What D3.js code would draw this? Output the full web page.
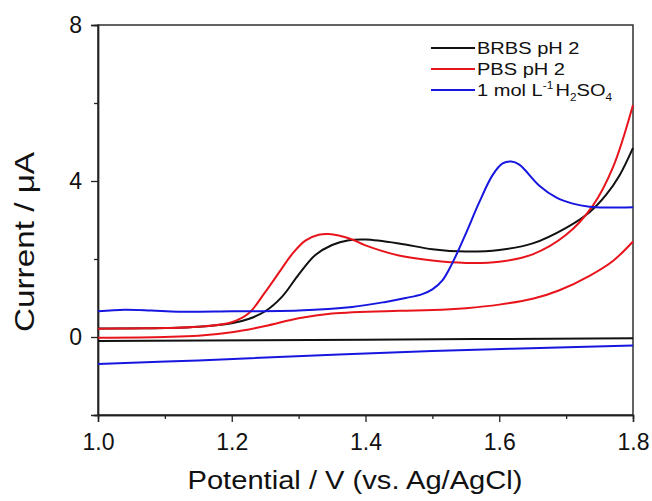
<!DOCTYPE html>
<html>
<head>
<meta charset="utf-8">
<script src="https://cdn.jsdelivr.net/npm/d3@7"></script>
<style>
  body { margin: 0; background: #fff; }
  text { font-family: "Liberation Sans", Arial, sans-serif; fill: #111; }
</style>
</head>
<body>
<svg id="chart" width="652" height="501"></svg>
<script>
// CV data: [potential V, current uA]
// each electrolyte has a forward (upper) and a reverse (lower) branch
const brbsFwd = [[1.0,0.22],[1.1,0.23],[1.15,0.26],[1.2,0.35],[1.225,0.46],[1.25,0.66],[1.275,1.03],
  [1.3,1.6],[1.325,2.1],[1.35,2.36],[1.375,2.48],[1.4,2.5],[1.45,2.4],[1.5,2.25],[1.55,2.19],
  [1.6,2.23],[1.65,2.4],[1.7,2.8],[1.735,3.2],[1.76,3.65],[1.78,4.15],[1.8,4.85]];
const brbsRev = [[1.0,-0.1],[1.4,-0.07],[1.8,-0.03]];

const pbsFwd = [[1.0,0.21],[1.05,0.22],[1.1,0.23],[1.15,0.26],[1.2,0.38],[1.225,0.6],[1.25,1.15],
  [1.275,1.76],[1.29,2.12],[1.31,2.47],[1.33,2.62],[1.345,2.64],[1.36,2.6],[1.38,2.5],[1.4,2.35],[1.45,2.09],
  [1.5,1.96],[1.55,1.9],[1.6,1.93],[1.65,2.12],[1.7,2.62],[1.74,3.37],[1.77,4.35],[1.8,5.95]];
const pbsRev = [[1.0,-0.02],[1.1,0.0],[1.15,0.03],[1.2,0.12],[1.25,0.28],[1.3,0.48],[1.35,0.6],
  [1.45,0.67],[1.5,0.69],[1.55,0.74],[1.6,0.83],[1.65,0.98],[1.69,1.2],[1.735,1.57],[1.77,1.95],[1.8,2.45]];

const h2so4Fwd = [[1.0,0.66],[1.04,0.7],[1.08,0.68],[1.12,0.65],[1.2,0.66],[1.3,0.68],[1.38,0.77],
  [1.43,0.9],[1.46,1.0],[1.485,1.1],[1.5,1.22],[1.515,1.45],[1.53,1.9],[1.55,2.65],[1.57,3.45],
  [1.59,4.15],[1.605,4.45],[1.618,4.5],[1.63,4.42],[1.66,3.88],[1.685,3.58],[1.71,3.42],[1.735,3.34],
  [1.76,3.32],[1.8,3.33]];
const h2so4Rev = [[1.0,-0.69],[1.15,-0.6],[1.5,-0.36],[1.8,-0.22]];

const seriesNames = ["BRBS pH 2", "PBS pH 2", "1 mol L-1 H2SO4"];
const seriesColors = ["#111111", "#e8141c", "#1616e0"];
const xTicks = [1.0, 1.2, 1.4, 1.6, 1.8];
const xMinor = [1.1, 1.3, 1.5, 1.7];
const yTicks = [0, 4, 8];
const yMinor = [-2, 2, 6];

const svg = d3.select('#chart');
const plotLeft = 98, plotRight = 633, plotTop = 25, plotBottom = 415;

const x = d3.scaleLinear().domain([1.0, 1.8]).range([plotLeft, plotRight]);
const y = d3.scaleLinear().domain([-2, 8]).range([plotBottom, plotTop]);

// frame
svg.append('rect')
  .attr('x', plotLeft).attr('y', plotTop)
  .attr('width', plotRight - plotLeft).attr('height', plotBottom - plotTop)
  .attr('fill', 'none').attr('stroke', '#222').attr('stroke-width', 1.4);

// axes
svg.append('g').attr('transform', `translate(0,${plotBottom})`)
  .call(d3.axisBottom(x).tickValues(xTicks).tickFormat(d3.format('.1f')).tickSize(7).tickPadding(12));
svg.append('g').attr('transform', `translate(0,${plotBottom})`)
  .call(d3.axisBottom(x).tickValues(xMinor).tickFormat('').tickSize(4));

svg.append('g').attr('transform', `translate(${plotLeft},0)`)
  .call(d3.axisLeft(y).tickValues(yTicks).tickFormat(d3.format('d')).tickSize(7).tickPadding(9));
svg.append('g').attr('transform', `translate(${plotLeft},0)`)
  .call(d3.axisLeft(y).tickValues(yMinor).tickFormat('').tickSize(4));

svg.selectAll('.domain').attr('stroke', '#222').attr('stroke-width', 1.4);
svg.selectAll('.tick line').attr('stroke', '#222').attr('stroke-width', 1.3);
svg.selectAll('.tick text').attr('font-size', 23).attr('font-family', '"Liberation Sans", Arial, sans-serif').attr('fill', '#111');

// curves
const line = d3.line()
  .x(d => x(d[0]))
  .y(d => y(d[1]))
  .curve(d3.curveCatmullRom.alpha(0.5));

const branches = [
  [brbsFwd, 0], [brbsRev, 0],
  [pbsFwd, 1], [pbsRev, 1],
  [h2so4Fwd, 2], [h2so4Rev, 2]
];
branches.forEach(([data, i]) => {
  svg.append('path')
    .datum(data)
    .attr('d', line)
    .attr('fill', 'none')
    .attr('stroke', seriesColors[i])
    .attr('stroke-width', 2);
});

// axis titles
svg.append('text')
  .attr('x', 355).attr('y', 489)
  .attr('text-anchor', 'middle')
  .attr('font-size', 26)
  .attr('textLength', 335).attr('lengthAdjust', 'spacingAndGlyphs')
  .text('Potential / V (vs. Ag/AgCl)');

svg.append('text')
  .attr('transform', 'translate(34,242) rotate(-90)')
  .attr('text-anchor', 'middle')
  .attr('font-size', 28)
  .attr('textLength', 180).attr('lengthAdjust', 'spacingAndGlyphs')
  .text('Current / \u03BCA');

// legend (text stretched a little wider, like the original)
const legend = svg.append('g');
const rowY = [48, 69, 90];
seriesNames.forEach((name, i) => {
  legend.append('line')
    .attr('x1', 431).attr('x2', 475)
    .attr('y1', rowY[i]).attr('y2', rowY[i])
    .attr('stroke', seriesColors[i]).attr('stroke-width', 2);
  const t = legend.append('text')
    .attr('transform', `translate(477,${rowY[i] + 6}) scale(1.18,1)`)
    .attr('font-size', 17);
  if (i < 2) {
    t.text(name);
  } else {
    t.append('tspan').text('1 mol L');
    t.append('tspan').attr('font-size', 10).attr('dy', -7).text('-1');
    t.append('tspan').attr('dy', 7).attr('dx', 2).text('H');
    t.append('tspan').attr('font-size', 10).attr('dy', 5).text('2');
    t.append('tspan').attr('dy', -5).text('SO');
    t.append('tspan').attr('font-size', 10).attr('dy', 5).text('4');
  }
});
</script>
</body>
</html>
